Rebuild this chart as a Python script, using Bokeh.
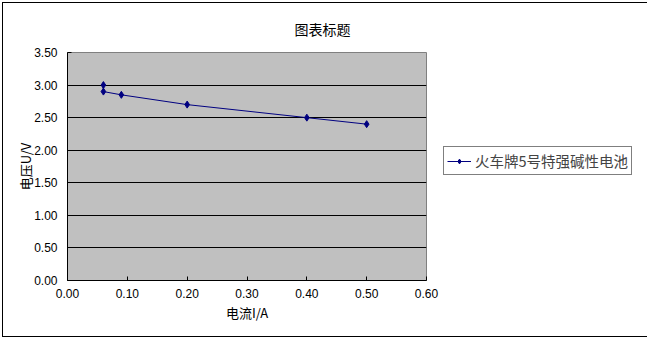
from bokeh.plotting import figure
from bokeh.layouts import column
from bokeh.models import Range1d, FixedTicker, Legend, LegendItem, NumeralTickFormatter
from bokeh.embed import file_html
from bokeh.resources import INLINE

# ---- data ----
current = [0.06, 0.06, 0.09, 0.20, 0.40, 0.50]
voltage = [3.00, 2.90, 2.85, 2.70, 2.50, 2.40]
x_ticks = [0.0, 0.1, 0.2, 0.3, 0.4, 0.5, 0.6]
y_ticks = [0.0, 0.5, 1.0, 1.5, 2.0, 2.5, 3.0, 3.5]
series_name = "火车牌5号特强碱性电池"
chart_title = "图表标题"
x_label = "电流I/A"
y_label = "电压U/V"

CJK = "Noto Sans CJK SC"
NUM = "Liberation Sans"

p = figure(frame_width=359, frame_height=228, output_backend="svg",
           toolbar_location=None,
           x_range=Range1d(0, 0.6), y_range=Range1d(0, 3.5),
           min_border_left=64, min_border_right=216, min_border_top=49,
           min_border_bottom=56, title=chart_title)
p.background_fill_color = "#C0C0C0"
p.border_fill_color = "white"
p.outline_line_color = "#808080"

p.title.text_font = CJK
p.title.text_font_size = "14px"
p.title.text_font_style = "normal"
p.title.text_color = "black"
p.title.align = "left"
p.title.offset = 227
p.title.standoff = 27

p.xgrid.visible = False
p.ygrid.ticker = FixedTicker(ticks=y_ticks)
p.ygrid.grid_line_color = "black"
p.ygrid.grid_line_width = 1

for ax, ticks in ((p.xaxis[0], x_ticks), (p.yaxis[0], y_ticks)):
    ax.ticker = FixedTicker(ticks=ticks)
    ax.formatter = NumeralTickFormatter(format="0.00")
    ax.major_label_text_font = NUM
    ax.major_label_text_font_size = "12px"
    ax.major_label_text_color = "black"
    ax.axis_line_color = "black"
    ax.major_tick_line_color = "black"
    ax.major_tick_in = 4
    ax.major_tick_out = 0
    ax.minor_tick_line_color = None
    ax.axis_label_text_font = CJK
    ax.axis_label_text_font_size = "13px"
    ax.axis_label_text_font_style = "normal"
    ax.axis_label_text_color = "black"

p.xaxis.axis_label = x_label
p.xaxis.major_label_standoff = 8
p.xaxis.axis_label_standoff = 2
p.yaxis.axis_label = y_label
p.yaxis.major_label_standoff = 10
p.yaxis.axis_label_standoff = -4

line = p.line(current, voltage, line_color="#000080", line_width=1)
pts = p.scatter(current, voltage, marker="diamond", size=7,
                fill_color="#000080", line_color="#000080")

legend = Legend(items=[LegendItem(label=series_name, renderers=[line, pts])],
                location=(17, 105), border_line_color="black",
                border_line_width=1, background_fill_color="white",
                background_fill_alpha=1.0,
                label_text_font=CJK, label_text_font_size="14.5px",
                label_height=12, glyph_height=12, glyph_width=24,
                label_standoff=4, padding=3, spacing=0, margin=0)
p.add_layout(legend, "right")

layout = column(p, margin=(2, 0, 0, 2),
                styles={"border": "1px solid black"})

open("out.html", "w").write(file_html(layout, INLINE))
